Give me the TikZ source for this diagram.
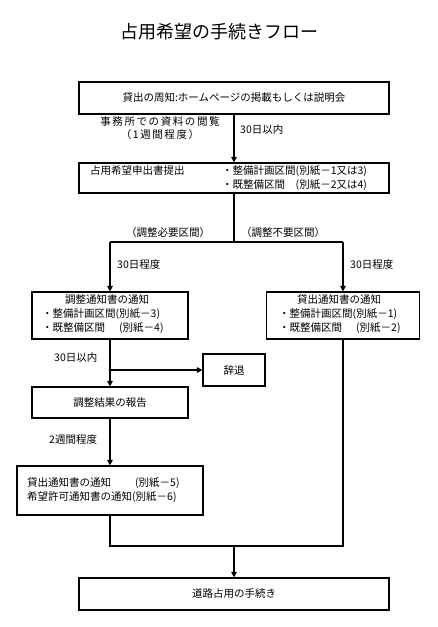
\documentclass[tikz,border=0pt]{standalone}
\usepackage{fontspec}
\setmainfont{Noto Sans CJK JP}
\usetikzlibrary{arrows.meta}
\begin{document}
\begin{tikzpicture}[x=1pt,y=-1pt,
  box/.style={draw,line width=1.1pt,inner sep=0pt,font=\fontsize{10.5}{14}\selectfont},
  txt/.style={inner sep=0pt,font=\fontsize{10.5}{14}\selectfont},
  ln/.style={line width=1.1pt},
  arr/.style={line width=1.1pt,-{Triangle[length=5.5pt,width=5.5pt]}}]
\useasboundingbox (0,0) rectangle (437,627);
% title
\node[inner sep=0pt,font=\fontsize{18}{20}\selectfont] (title) at (219,32) {占用希望の手続きフロー};
% boxes
\node[box,minimum width=310pt,minimum height=32pt] (b1) at (234,98) {貸出の周知:ホームページの掲載もしくは説明会};
\node[box,minimum width=310pt,minimum height=30pt] (b2) at (234,178) {};
\node[box,minimum width=156pt,minimum height=47pt] (b3) at (110,315.5) {};
\node[box,minimum width=153pt,minimum height=47pt] (b4) at (343,315.5) {};
\node[box,minimum width=62pt,minimum height=32pt] (b5) at (234,370) {辞退};
\node[box,minimum width=156pt,minimum height=31pt] (b6) at (110,402.5) {調整結果の報告};
\node[box,minimum width=186pt,minimum height=49pt] (b7) at (110,490.5) {};
\node[box,minimum width=310pt,minimum height=32pt] (b8) at (234,594) {道路占用の手続き};
% box texts
\node[txt,anchor=west] (t2a) at (90,171) {占用希望申出書提出};
\node[txt,anchor=west] (t2b) at (222,171) {・整備計画区間(別紙－1又は3)};
\node[txt,anchor=west] (t2c) at (222,185) {・既整備区間\hspace{10.5pt}(別紙－2又は4)};
\node[txt,anchor=west] (t3a) at (65,300) {調整通知書の通知};
\node[txt,anchor=west] (t3b) at (42,314) {・整備計画区間(別紙－3)};
\node[txt,anchor=west] (t3c) at (42,328) {・既整備区間\hspace{14pt}(別紙－4)};
\node[txt,anchor=west] (t4a) at (297,300) {貸出通知書の通知};
\node[txt,anchor=west] (t4b) at (279,314) {・整備計画区間(別紙－1)};
\node[txt,anchor=west] (t4c) at (279,328) {・既整備区間\hspace{14pt}(別紙－2)};
\node[txt,anchor=west] (t7a) at (27,483) {貸出通知書の通知\hspace{24pt}(別紙－5)};
\node[txt,anchor=west] (t7b) at (27,497) {希望許可通知書の通知(別紙－6)};
% labels
\node[txt,align=center,font=\fontsize{10.5}{13}\selectfont\addfontfeatures{LetterSpace=15}] (l1) at (160,128.5) {事務所での資料の閲覧\\（1週間程度）};
\node[txt,anchor=west] (l2) at (240,130) {30日以内};
\node[txt] (l3) at (168,233) {（調整必要区間）};
\node[txt] (l4) at (283,233) {（調整不要区間）};
\node[txt,anchor=west] (l5) at (117,265) {30日程度};
\node[txt,anchor=west] (l6) at (350,265) {30日程度};
\node[txt,anchor=west] (l7) at (54,358) {30日以内};
\node[txt,anchor=west] (l8) at (49,440) {2週間程度};
% junction coordinates
\coordinate (j1) at (234,242);
\coordinate (jl) at (110,242);
\coordinate (jr) at (343,242);
\coordinate (k) at (110,370);
\coordinate (m) at (234,546);
\coordinate (ml) at (110,546);
\coordinate (mr) at (343,546);
% connectors
\draw[arr] (b1.south) -- (b2.north);
\draw[ln] (b2.south) -- (j1);
\draw[ln] (jl) -- (jr);
\draw[arr] (jl) -- (b3.north);
\draw[arr] (jr) -- (b4.north);
\draw[arr] (b3.south) -- (b6.north);
\draw[arr] (k) -- (b5.west);
\draw[arr] (b6.south) -- (b7.north);
\draw[ln] (b7.south) -- (ml) -- (mr) -- (b4.south);
\draw[arr] (m) -- (b8.north);
\end{tikzpicture}
\end{document}
